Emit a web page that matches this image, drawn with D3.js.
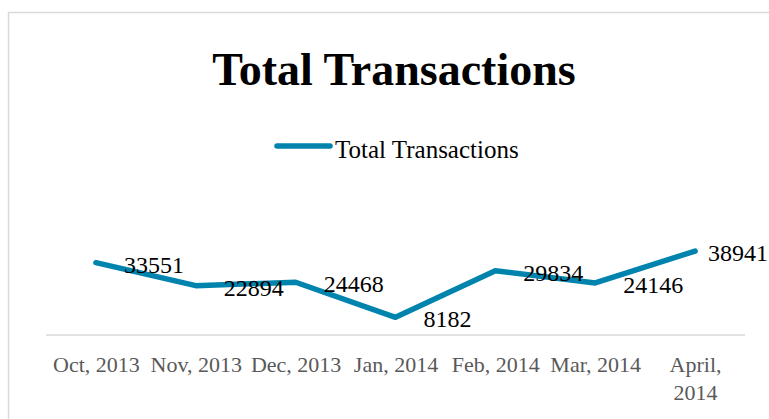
<!DOCTYPE html>
<html><head><meta charset="utf-8">
<script src="https://cdn.jsdelivr.net/npm/d3@7"></script>
<style>body{margin:0;background:#fff}svg{display:block}</style>
</head><body>
<svg id="c" width="769" height="419"></svg>
<script>
const categories = ["Oct, 2013","Nov, 2013","Dec, 2013","Jan, 2014","Feb, 2014","Mar, 2014","April, 2014"];
const values = [33551, 22894, 24468, 8182, 29834, 24146, 38941];
const seriesName = "Total Transactions";
const title = "Total Transactions";

const W = 769, H = 419;
const svg = d3.select("#c");
const font = "'Liberation Serif','Times New Roman',serif";
const color = "#0083ad";

svg.append("rect").attr("x",8.5).attr("y",12.5).attr("width",800).attr("height",500)
  .attr("fill","#fff").attr("stroke","#d9d9d9").attr("stroke-width",1.5);

svg.append("text").attr("x",394).attr("y",85).attr("text-anchor","middle")
  .attr("font-family",font).attr("font-weight","bold").attr("font-size",46).text(title);

// legend
svg.append("line").attr("x1",277).attr("x2",330).attr("y1",146).attr("y2",146)
  .attr("stroke",color).attr("stroke-width",5.5).attr("stroke-linecap","round");
svg.append("text").attr("x",335).attr("y",158).attr("font-family",font).attr("font-size",25)
  .attr("fill","#000").text(seriesName);

const x = d3.scalePoint().domain(categories).range([46,745]).padding(0.5);
const y = d3.scaleLinear().domain([0,45000]).range([335,238]);

const axis = d3.axisBottom(x).tickSize(0).tickPadding(0);
const ag = svg.append("g").attr("transform","translate(0,335)").call(axis);
ag.select(".domain").remove();
svg.append("line").attr("x1",46).attr("x2",745).attr("y1",335).attr("y2",335)
  .attr("stroke","#d9d9d9").attr("stroke-width",1.5);
ag.selectAll(".tick text").each(function(d){
  const t = d3.select(this);
  t.text(null).attr("font-family",font).attr("font-size",22).attr("fill","#595959").attr("y",0).attr("dy",null);
  const parts = d.startsWith("April") ? ["April,","2014"] : [d];
  parts.forEach((p,i)=>t.append("tspan").attr("x",0).attr("y",37+i*28).text(p));
});

const line = d3.line().x((d,i)=>x(categories[i])).y(d=>y(d));
svg.append("path").datum(values).attr("d",line).attr("fill","none")
  .attr("stroke",color).attr("stroke-width",5.5).attr("stroke-linejoin","round").attr("stroke-linecap","round");

svg.selectAll(".lbl").data(values).enter().append("text").attr("class","lbl")
  .attr("font-family",font).attr("font-size",24).attr("fill","#000")
  .attr("y",d=>y(d)+10).text(d=>d)
  .each(function(d,i){
    const w = this.getComputedTextLength();
    let px = x(categories[i]) + 28;
    if (px + w > W - 1) px = W - 1 - w;
    d3.select(this).attr("x",px);
  });
</script>
</body></html>
